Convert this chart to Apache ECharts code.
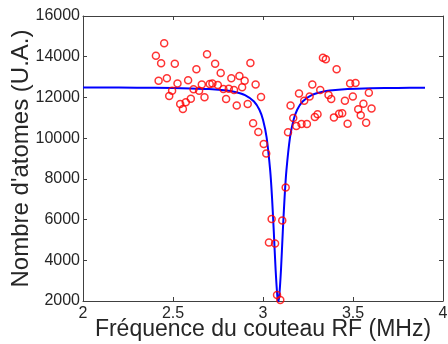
<!DOCTYPE html>
<html>
<head>
<meta charset="utf-8">
<script src="https://cdn.jsdelivr.net/npm/echarts@6/dist/echarts.min.js"></script>
<style>html,body{margin:0;padding:0;background:#fff}#c{width:448px;height:344px}</style>
</head>
<body>
<div id="c"></div>
<script>
// Measured points (frequency MHz, atom number a.u.)
const measX = [2.405,2.420,2.434,2.451,2.466,2.479,2.495,2.510,2.525,2.540,2.555,2.571,2.584,2.599,2.614,2.630,2.645,2.660,2.675,2.689,2.704,2.719,2.734,2.749,2.765,2.780,2.795,2.810,2.824,2.839,2.854,2.869,2.884,2.898,2.915,2.930,2.945,2.959,2.974,2.989,3.004,3.018,3.033,3.048,3.067,3.078,3.096,3.107,3.126,3.139,3.153,3.168,3.185,3.200,3.214,3.229,3.244,3.259,3.274,3.288,3.303,3.318,3.333,3.349,3.364,3.379,3.394,3.409,3.423,3.440,3.455,3.470,3.484,3.499,3.514,3.529,3.543,3.558,3.573,3.588,3.603];
const measY = [14050,12820,13680,14660,12940,12070,12330,13660,12680,11680,11430,11760,12840,11940,12400,13380,12330,12640,12010,14120,12660,12680,13660,12610,13200,12410,11920,12430,12940,12370,11600,13050,12500,12820,11680,13690,10730,12630,10300,12020,9710,9240,4870,6030,4820,2300,2050,5950,7570,10290,11600,10990,10600,12190,10700,11840,10700,12050,12640,11040,11170,12370,13950,13870,12120,11920,11020,13380,11200,11220,11840,10710,12690,12050,12710,11420,11120,11690,10760,12230,11460];
// Fitted curve
const fitX = [2.0,2.2,2.4,2.6,2.7,2.8,2.85,2.9,2.95,2.98,3.0,3.02,3.04,3.05,3.06,3.07,3.08,3.085,3.09,3.10,3.11,3.12,3.13,3.15,3.17,3.19,3.22,3.27,3.32,3.37,3.47,3.6,3.75,3.9];
const fitY = [12490,12483,12471,12442,12409,12335,12259,12117,11803,11396,10903,10035,8400,7100,5400,3550,2200,2000,2200,3550,5415,7100,8400,10035,10903,11396,11803,12117,12259,12335,12409,12449,12469,12480];
const xTicks = [2,2.5,3,3.5,4];
const yTicks = [2000,4000,6000,8000,10000,12000,14000,16000];

const font = 'Liberation Sans, Arial, Helvetica, sans-serif';
const axCol = '#404040';
const txtCol = '#262626';
const chart = echarts.init(document.getElementById('c'), null, {renderer:'canvas'});
const xBase = {type:'value', min:xTicks[0], max:xTicks[xTicks.length-1], interval:xTicks[1]-xTicks[0],
  axisLine:{show:true,onZero:false,lineStyle:{color:axCol,width:1}},
  axisTick:{show:true,inside:true,length:4,lineStyle:{color:axCol}},
  splitLine:{show:false}};
const yBase = {type:'value', min:yTicks[0], max:yTicks[yTicks.length-1], interval:yTicks[1]-yTicks[0],
  axisLine:{show:true,onZero:false,lineStyle:{color:axCol,width:1}},
  axisTick:{show:true,inside:true,length:4,lineStyle:{color:axCol}},
  splitLine:{show:false}};
chart.setOption({
  animation:false,
  backgroundColor:'#fff',
  grid:{left:83,right:5,top:16,bottom:43,containLabel:false,outerBoundsMode:'none'},
  xAxis:[
    Object.assign({}, xBase, {position:'bottom',
      axisLabel:{color:txtCol,fontFamily:font,fontSize:16,margin:5,formatter:v=>String(v)},
      name:'Fréquence du couteau RF (MHz)', nameLocation:'middle', nameGap:17, nameMoveOverlap:false,
      nameTextStyle:{color:txtCol,fontFamily:font,fontSize:23}}),
    Object.assign({}, xBase, {position:'top', axisLabel:{show:false}})
  ],
  yAxis:[
    Object.assign({}, yBase, {position:'left',
      axisLabel:{color:txtCol,fontFamily:font,fontSize:16,margin:3,formatter:v=>String(v)},
      name:"Nombre d'atomes (U.A.)", nameLocation:'middle', nameGap:50, nameMoveOverlap:false,
      nameTextStyle:{color:txtCol,fontFamily:font,fontSize:24}}),
    Object.assign({}, yBase, {position:'right', axisLabel:{show:false}})
  ],
  series:[
    {type:'line', xAxisIndex:0, yAxisIndex:0, data:fitX.map((x,i)=>[x,fitY[i]]),
      smooth:0.3, showSymbol:false, symbol:'none', lineStyle:{color:'#0000ff',width:2}, z:2},
    {type:'scatter', xAxisIndex:0, yAxisIndex:0, data:measX.map((x,i)=>[x,measY[i]]),
      symbol:'circle', symbolSize:7,
      itemStyle:{color:'rgba(255,255,255,0)',borderColor:'#ff0000',borderWidth:1.5}, z:3}
  ]
});
</script>
</body>
</html>
